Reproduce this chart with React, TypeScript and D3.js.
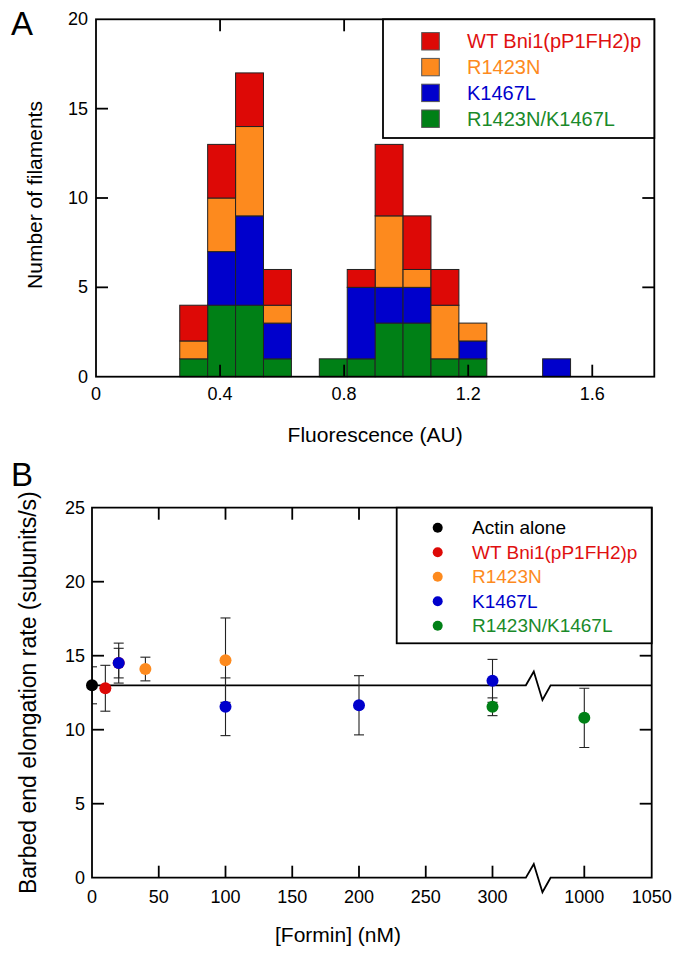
import React from "react"
import * as d3 from "d3"

const FONT = "'Liberation Sans', Arial, Helvetica, sans-serif"

// ---- Panel A: stacked histogram of filament fluorescence ----
const binStarts = [0.27, 0.36, 0.45, 0.54, 0.72, 0.81, 0.9, 0.99, 1.08, 1.17, 1.44]
const binWidth = 0.09
const countsWT = [2, 3, 3, 2, 0, 1, 4, 3, 2, 0, 0]
const countsR1423N = [1, 3, 5, 1, 0, 0, 4, 1, 3, 1, 0]
const countsK1467L = [0, 3, 5, 2, 0, 4, 2, 2, 0, 1, 1]
const countsDouble = [1, 4, 4, 1, 1, 1, 3, 3, 1, 1, 0]

const seriesNames = ["WT Bni1(pP1FH2)p", "R1423N", "K1467L", "R1423N/K1467L"]
const seriesColors = ["#dd0906", "#fd8a1e", "#0000cc", "#008016"]
const textColors = ["#e01010", "#fd8a1e", "#0000cc", "#1a8a2a"]

const xTicksA = [0, 0.4, 0.8, 1.2, 1.6]
const yTicksA = [0, 5, 10, 15, 20]

// ---- Panel B: elongation rate vs formin concentration ----
const actinX = [0]
const actinY = [13.0]
const actinErr = [1.25]
const wtX = [10, 20]
const wtY = [12.8, 14.5]
const wtErr = [1.55, 1.0]
const r1423nX = [40, 100]
const r1423nY = [14.1, 14.7]
const r1423nErr = [0.8, 2.85]
const k1467lX = [20, 100, 200, 300]
const k1467lY = [14.5, 11.55, 11.65, 13.3]
const k1467lErr = [1.35, 1.95, 2.0, 1.45]
const doubleX = [300, 1000]
const doubleY = [11.55, 10.8]
const doubleErr = [0.6, 2.0]
const actinRate = 13

const xTicksB = [0, 50, 100, 150, 200, 250, 300, 1000, 1050]
const yTicksB = [0, 5, 10, 15, 20, 25]
const breakRange = [325, 975]

export default function App() {
  // ---------- A ----------
  const A = { left: 96, right: 654.3, top: 19.3, bottom: 376.7 }
  const xA = d3.scaleLinear().domain([0, 1.8]).range([A.left, A.right])
  const yA = d3.scaleLinear().domain([0, 20]).range([A.bottom, A.top])

  const rows = binStarts.map((b, i) => ({
    start: b,
    double: countsDouble[i],
    k1467l: countsK1467L[i],
    r1423n: countsR1423N[i],
    wt: countsWT[i],
  }))
  const stackKeys = ["double", "k1467l", "r1423n", "wt"]
  const keyColor: Record<string, string> = {
    wt: seriesColors[0],
    r1423n: seriesColors[1],
    k1467l: seriesColors[2],
    double: seriesColors[3],
  }
  const stacked = d3.stack<any>().keys(stackKeys)(rows)

  // ---------- B ----------
  const B = { left: 92, right: 651.7, top: 507.7, bottom: 877.7 }
  const xLow = d3.scaleLinear().domain([0, 300]).range([B.left, 492.5])
  const xHigh = d3.scaleLinear().domain([1000, 1050]).range([584.3, B.right])
  const xB = (v: number) => (v > 650 ? xHigh(v) : xLow(v))
  const yB = d3.scaleLinear().domain([0, 25]).range([B.bottom, B.top])
  const br0 = xB(breakRange[0])
  const br1 = xB(breakRange[1])
  const zig = (y: number) => {
    const w = br1 - br0
    return `L${br0},${y} L${br0 + w * 0.32},${y - 13.7} L${br0 + w * 0.67},${y + 14.6} L${br1},${y}`
  }

  const pointSeries = [
    { xs: actinX, ys: actinY, es: actinErr, color: "#000000" },
    { xs: wtX, ys: wtY, es: wtErr, color: seriesColors[0] },
    { xs: r1423nX, ys: r1423nY, es: r1423nErr, color: seriesColors[1] },
    { xs: k1467lX, ys: k1467lY, es: k1467lErr, color: seriesColors[2] },
    { xs: doubleX, ys: doubleY, es: doubleErr, color: seriesColors[3] },
  ]
  const legendB = [
    { name: "Actin alone", color: "#000000", text: "#000000" },
    ...seriesNames.map((n, i) => ({ name: n, color: seriesColors[i], text: textColors[i] })),
  ]

  const tick = 12
  const axisW = 1.8

  return (
    <div style={{ position: "absolute", left: 0, top: 0 }}>
      <svg width={674} height={953} style={{ display: "block" }} fontFamily={FONT}>
        <rect width={674} height={953} fill="#fff" />

        {/* ===== Panel A ===== */}
        <text x={11} y={35} fontSize={33}>A</text>
        {stacked.map((layer) => (
          <g key={layer.key}>
            {layer.map((d, i) =>
              d[1] - d[0] > 0 ? (
                <rect
                  key={i}
                  x={xA(rows[i].start)}
                  y={yA(d[1])}
                  width={xA(rows[i].start + binWidth) - xA(rows[i].start)}
                  height={yA(d[0]) - yA(d[1])}
                  fill={keyColor[layer.key]}
                  stroke="#222"
                  strokeWidth={1}
                />
              ) : null
            )}
          </g>
        ))}
        <rect x={A.left} y={A.top} width={A.right - A.left} height={A.bottom - A.top}
          fill="none" stroke="#000" strokeWidth={axisW} />
        {xTicksA.filter((t) => t > 0).map((t) => (
          <g key={t}>
            <line x1={xA(t)} x2={xA(t)} y1={A.bottom} y2={A.bottom - tick} stroke="#000" strokeWidth={axisW} />
            <line x1={xA(t)} x2={xA(t)} y1={A.top} y2={A.top + tick} stroke="#000" strokeWidth={axisW} />
          </g>
        ))}
        {yTicksA.filter((t) => t > 0 && t < 20).map((t) => (
          <g key={t}>
            <line x1={A.left} x2={A.left + tick} y1={yA(t)} y2={yA(t)} stroke="#000" strokeWidth={axisW} />
            <line x1={A.right} x2={A.right - tick} y1={yA(t)} y2={yA(t)} stroke="#000" strokeWidth={axisW} />
          </g>
        ))}
        {xTicksA.map((t) => (
          <text key={t} x={xA(t)} y={400} fontSize={18} textAnchor="middle">{t}</text>
        ))}
        {yTicksA.map((t) => (
          <text key={t} x={88} y={yA(t)} fontSize={18} textAnchor="end" dominantBaseline="central">{t}</text>
        ))}
        <text x={(A.left + A.right) / 2} y={442} fontSize={21} textAnchor="middle">Fluorescence (AU)</text>
        <text transform={`translate(42,${(A.top + A.bottom) / 2 - 3}) rotate(-90)`} fontSize={21} textAnchor="middle">
          Number of filaments
        </text>

        {/* legend A */}
        <rect x={383} y={A.top} width={A.right - 383} height={138 - A.top} fill="#fff" stroke="#000" strokeWidth={axisW} />
        {seriesNames.map((n, i) => {
          const cy = 41.3 + i * 25.8
          return (
            <g key={n}>
              <rect x={421.7} y={cy - 8.7} width={17.6} height={17.4} fill={seriesColors[i]} stroke="#555" strokeWidth={1} />
              <text x={467} y={cy} fontSize={20} fill={textColors[i]} dominantBaseline="central">{n}</text>
            </g>
          )
        })}

        {/* ===== Panel B ===== */}
        <text x={11} y={486} fontSize={33}>B</text>
        <defs>
          <clipPath id="plotB">
            <rect x={B.left} y={B.top} width={B.right - B.left} height={B.bottom - B.top} />
          </clipPath>
        </defs>

        {/* reference line: actin alone */}
        <path d={`M${B.left},${yB(actinRate)} ${zig(yB(actinRate))} L${B.right},${yB(actinRate)}`}
          fill="none" stroke="#000" strokeWidth={1.8} />

        {/* error bars */}
        <g clipPath="url(#plotB)">
          {pointSeries.map((s, si) =>
            s.xs.map((xv, i) => {
              const cx = xB(xv)
              const y1 = yB(s.ys[i] + s.es[i])
              const y2 = yB(s.ys[i] - s.es[i])
              return (
                <g key={`${si}-${i}`} stroke="#222" strokeWidth={1.1}>
                  <line x1={cx} x2={cx} y1={y1} y2={y2} />
                  <line x1={cx - 5} x2={cx + 5} y1={y1} y2={y1} />
                  <line x1={cx - 5} x2={cx + 5} y1={y2} y2={y2} />
                </g>
              )
            })
          )}
        </g>
        {pointSeries.map((s, si) =>
          s.xs.map((xv, i) => (
            <circle key={`${si}-${i}`} cx={xB(xv)} cy={yB(s.ys[i])} r={6} fill={s.color} />
          ))
        )}

        {/* axes frame with break */}
        <path d={`M${B.left},${B.bottom} ${zig(B.bottom)} L${B.right},${B.bottom} L${B.right},${B.top} L${B.left},${B.top} Z`}
          fill="none" stroke="#000" strokeWidth={axisW} />
        {xTicksB.filter((t) => t > 0 && t < 1050).map((t) => (
          <g key={t}>
            <line x1={xB(t)} x2={xB(t)} y1={B.bottom} y2={B.bottom - tick} stroke="#000" strokeWidth={axisW} />
            <line x1={xB(t)} x2={xB(t)} y1={B.top} y2={B.top + tick} stroke="#000" strokeWidth={axisW} />
          </g>
        ))}
        {yTicksB.filter((t) => t > 0 && t < 25).map((t) => (
          <g key={t}>
            <line x1={B.left} x2={B.left + tick} y1={yB(t)} y2={yB(t)} stroke="#000" strokeWidth={axisW} />
            <line x1={B.right} x2={B.right - tick} y1={yB(t)} y2={yB(t)} stroke="#000" strokeWidth={axisW} />
          </g>
        ))}
        {xTicksB.map((t) => (
          <text key={t} x={xB(t)} y={903} fontSize={18} textAnchor="middle">{t}</text>
        ))}
        {yTicksB.map((t) => (
          <text key={t} x={85} y={yB(t)} fontSize={18} textAnchor="end" dominantBaseline="central">{t}</text>
        ))}
        <text x={338} y={942} fontSize={21} textAnchor="middle">[Formin] (nM)</text>
        <text transform={`translate(36,${(B.top + B.bottom) / 2}) rotate(-90)`} fontSize={23} textAnchor="middle">
          Barbed end elongation rate (subunits/s)
        </text>

        {/* legend B */}
        <rect x={396.7} y={B.top} width={B.right - 396.7} height={643.3 - B.top} fill="#fff" stroke="#000" strokeWidth={axisW} />
        {legendB.map((l, i) => {
          const cy = 527.7 + i * 24.5
          return (
            <g key={l.name}>
              <circle cx={437.7} cy={cy} r={5} fill={l.color} />
              <text x={472} y={cy} fontSize={19} fill={l.text} dominantBaseline="central">{l.name}</text>
            </g>
          )
        })}
      </svg>
    </div>
  )
}
